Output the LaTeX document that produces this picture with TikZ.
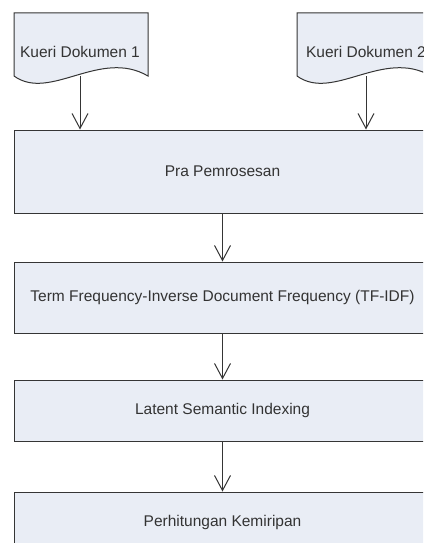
\documentclass[tikz,border=0pt]{standalone}
\usepackage{fontspec}
\setmainfont{Liberation Sans}
\usepackage{tikz}
\usetikzlibrary{positioning,arrows.meta}
\definecolor{box-fill}{HTML}{E9EDF5}
\definecolor{box-line}{HTML}{353535}
\tikzset{
    process-box/.style = {draw=box-line, fill=box-fill, line width=1pt, rectangle, minimum width=417pt, inner sep=0pt, text=black!80, font=\fontsize{15.5}{18}\selectfont},
    doc-shape/.style = {draw=box-line, fill=box-fill, line width=1pt},
    doc-text/.style = {text=black!80, inner sep=0pt, font=\fontsize{15.5}{18}\selectfont},
    flow-arrow/.style = {draw=box-line, line width=1pt, -{Straight Barb[length=15pt, width=16pt, line width=1pt]}},
}
\begin{document}
\begin{tikzpicture}[x=1pt, y=-1pt]
\path[use as bounding box, clip] (0,0) rectangle (423,543);
\fill[white] (0,0) rectangle (423,543);

\filldraw[doc-shape] (14,13) -- (148,13) -- (148,76) .. controls (100,48) and (50,102) .. (14,76) -- cycle;
\filldraw[doc-shape] (297,13) -- (431,13) -- (431,76) .. controls (383,48) and (333,102) .. (297,76) -- cycle;
\node[doc-text] (kueri1) at (80,52) {Kueri Dokumen 1};
\node[doc-text] (kueri2) at (366,52) {Kueri Dokumen 2};
\coordinate (kueri1-out) at (80,76);
\coordinate (kueri2-out) at (366,76);

\node[process-box, minimum height=83pt] (pra) at (222.5,171.5) {Pra Pemrosesan};
\node[process-box, minimum height=71pt, below=48pt of pra] (tfidf) {Term Frequency-Inverse Document Frequency (TF-IDF)};
\node[process-box, minimum height=61pt, below=46pt of tfidf] (lsi) {Latent Semantic Indexing};
\node[process-box, minimum height=61pt, below=50pt of lsi] (hitung) {Perhitungan Kemiripan};

\draw[flow-arrow] (kueri1-out) -- (kueri1-out |- pra.north);
\draw[flow-arrow] (kueri2-out) -- (kueri2-out |- pra.north);
\draw[flow-arrow] (pra) -- (tfidf);
\draw[flow-arrow] (tfidf) -- (lsi);
\draw[flow-arrow] (lsi) -- (hitung);
\end{tikzpicture}
\end{document}
